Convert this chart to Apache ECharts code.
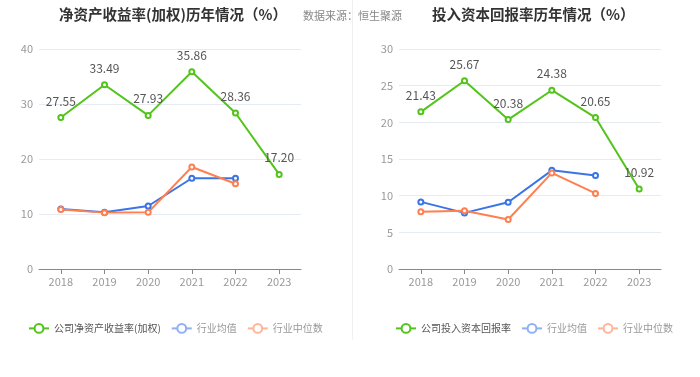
<!DOCTYPE html>
<html>
<head>
<meta charset="utf-8">
<script src="https://cdn.jsdelivr.net/npm/echarts@6/dist/echarts.min.js"></script>
<style>
html, body { margin: 0; padding: 0; background: #fff; }
#main { width: 700px; height: 377px; }
</style>
</head>
<body>
<div id="main"></div>
<script>
var years = ['2018', '2019', '2020', '2021', '2022', '2023'];

// 净资产收益率(加权)
var roeCompany = [27.55, 33.49, 27.93, 35.86, 28.36, 17.20];
var roeAvg = [10.9, 10.3, 11.45, 16.5, 16.5, null];
var roeMedian = [10.8, 10.25, 10.3, 18.55, 15.5, null];

// 投入资本回报率
var roicCompany = [21.43, 25.67, 20.38, 24.38, 20.65, 10.92];
var roicAvg = [9.15, 7.65, 9.1, 13.45, 12.75, null];
var roicMedian = [7.8, 7.95, 6.75, 13.1, 10.3, null];

var green = '#52c41a', blue = '#3a74e6', orange = '#ff7f50';
var font = '"Noto Sans CJK SC", sans-serif';

function makeSeries(name, data, color, idx, label) {
    return {
        name: name,
        type: 'line',
        xAxisIndex: idx,
        yAxisIndex: idx,
        data: data,
        symbol: 'emptyCircle',
        symbolSize: 5,
        color: color,
        lineStyle: { width: 2, color: color },
        itemStyle: { color: color, borderWidth: 1.5 },
        label: {
            show: label,
            position: 'top',
            distance: 7,
            color: '#555',
            fontSize: 12,
            fontFamily: font,
            formatter: function (p) { return p.value.toFixed(2); }
        }
    };
}

function legendItem(name, color, textColor) {
    return {
        name: name,
        itemStyle: { color: color },
        lineStyle: { color: color, width: 2 },
        textStyle: { color: textColor }
    };
}

function legendItems(first) {
    return [
        legendItem(first, green, '#555'),
        legendItem('行业均值', '#8fb0f2', '#999'),
        legendItem('行业中位数', '#ffb59a', '#999')
    ];
}

function xAxis(idx) {
    return {
        type: 'category',
        gridIndex: idx,
        data: years,
        axisLine: { lineStyle: { color: '#888' } },
        axisTick: { show: true, alignWithLabel: true, lineStyle: { color: '#888' } },
        axisLabel: { color: '#999', fontSize: 11, fontFamily: font, margin: 7 }
    };
}

function yAxis(idx, max, interval) {
    return {
        type: 'value',
        gridIndex: idx,
        min: 0,
        max: max,
        interval: interval,
        axisLine: { show: false },
        axisTick: { show: false },
        axisLabel: { color: '#999', fontSize: 11, fontFamily: font, margin: 6 },
        splitLine: { lineStyle: { color: '#e6eaf2' } }
    };
}

var myChart = echarts.init(document.getElementById('main'));
option = {
    animation: false,
    textStyle: { fontFamily: font },
    title: [
        { text: '净资产收益率(加权)历年情况（%）', left: 54, top: 2, textStyle: { fontSize: 14.5, fontWeight: 'bold', color: '#333', fontFamily: font } },
        { text: '数据来源：恒生聚源', left: 298, top: 5, textStyle: { fontSize: 11, fontWeight: 'normal', color: '#888', fontFamily: font } },
        { text: '投入资本回报率历年情况（%）', left: 427, top: 2, textStyle: { fontSize: 14.5, fontWeight: 'bold', color: '#333', fontFamily: font } }
    ],
    graphic: [{
        type: 'line',
        shape: { x1: 352.5, y1: 0, x2: 352.5, y2: 340 },
        style: { stroke: '#f0f0f0', lineWidth: 1 }
    }],
    legend: [
        { left: 28, top: 323, padding: 0, width: 320, itemWidth: 20, itemHeight: 11, itemGap: 10, textStyle: { fontSize: 10, fontFamily: font }, data: legendItems('公司净资产收益率(加权)') },
        { left: 395, top: 323, padding: 0, width: 320, itemWidth: 20, itemHeight: 11, itemGap: 10, textStyle: { fontSize: 10, fontFamily: font }, data: legendItems('公司投入资本回报率') }
    ],
    grid: [
        { left: 39, top: 49, width: 262, height: 220 },
        { left: 399, top: 49, width: 262, height: 220 }
    ],
    xAxis: [xAxis(0), xAxis(1)],
    yAxis: [yAxis(0, 40, 10), yAxis(1, 30, 5)],
    series: [
        makeSeries('公司净资产收益率(加权)', roeCompany, green, 0, true),
        makeSeries('行业均值', roeAvg, blue, 0, false),
        makeSeries('行业中位数', roeMedian, orange, 0, false),
        makeSeries('公司投入资本回报率', roicCompany, green, 1, true),
        makeSeries('行业均值', roicAvg, blue, 1, false),
        makeSeries('行业中位数', roicMedian, orange, 1, false)
    ]
};
myChart.setOption(option);

window.onresize = function () {
    myChart.resize();
};
</script>
</body>
</html>
